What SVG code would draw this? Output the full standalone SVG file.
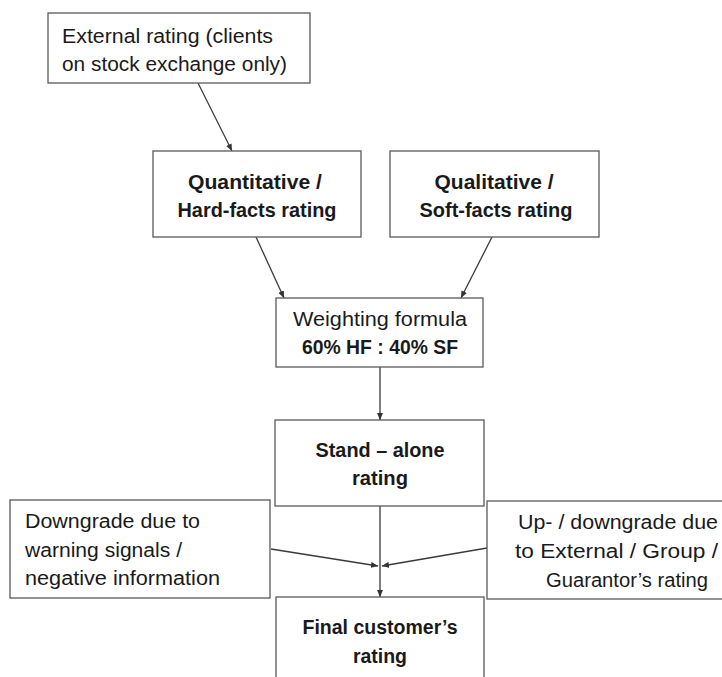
<svg xmlns="http://www.w3.org/2000/svg" width="722" height="677" viewBox="0 0 722 677">
<defs>
<marker id="ah" markerWidth="7" markerHeight="6" refX="7" refY="3" orient="auto" markerUnits="userSpaceOnUse">
<path d="M0,0 L7,3 L0,6 z" fill="#333"/>
</marker>
<style>
.box{fill:#fff;stroke:#5a5a5a;stroke-width:1.3}
.t{font-family:"Liberation Sans",Arial,sans-serif;font-size:20px;fill:#1a1a1a}
.b{font-weight:bold}
.c{stroke:#3a3a3a;stroke-width:1.3;fill:none;marker-end:url(#ah)}
</style>
</defs>
<rect width="722" height="677" fill="#fff"/>
<g id="connectors">
<line class="c" x1="198" y1="83" x2="232" y2="151"/>
<line class="c" x1="256" y1="237" x2="284" y2="298"/>
<line class="c" x1="492" y1="237" x2="461" y2="298"/>
<line class="c" x1="380" y1="367" x2="380" y2="420"/>
<line class="c" x1="380" y1="506" x2="380" y2="597"/>
<line class="c" x1="271" y1="549" x2="378" y2="566"/>
<line class="c" x1="487" y1="548" x2="382" y2="566"/>
</g>
<g id="external">
<rect class="box" x="48" y="13" width="262" height="70"/>
<text class="t" x="62" y="43" textLength="211" lengthAdjust="spacingAndGlyphs">External rating (clients</text>
<text class="t" x="62" y="71" textLength="225" lengthAdjust="spacingAndGlyphs">on stock exchange only)</text>
</g>
<g id="quantitative">
<rect class="box" x="153" y="151" width="208" height="86"/>
<text class="t b" x="255" y="189" text-anchor="middle" textLength="134" lengthAdjust="spacingAndGlyphs">Quantitative /</text>
<text class="t b" x="257" y="217" text-anchor="middle" textLength="159" lengthAdjust="spacingAndGlyphs">Hard-facts rating</text>
</g>
<g id="qualitative">
<rect class="box" x="390" y="151" width="209" height="86"/>
<text class="t b" x="494" y="189" text-anchor="middle" textLength="119" lengthAdjust="spacingAndGlyphs">Qualitative /</text>
<text class="t b" x="496" y="217" text-anchor="middle" textLength="153" lengthAdjust="spacingAndGlyphs">Soft-facts rating</text>
</g>
<g id="weighting">
<rect class="box" x="276" y="298" width="207" height="69"/>
<text class="t" x="380" y="326" text-anchor="middle" textLength="174" lengthAdjust="spacingAndGlyphs">Weighting formula</text>
<text class="t b" x="380" y="354" text-anchor="middle" textLength="156" lengthAdjust="spacingAndGlyphs">60% HF : 40% SF</text>
</g>
<g id="standalone">
<rect class="box" x="275" y="420" width="209" height="86"/>
<text class="t b" x="380" y="457" text-anchor="middle" textLength="129" lengthAdjust="spacingAndGlyphs">Stand – alone</text>
<text class="t b" x="380" y="485" text-anchor="middle" textLength="56" lengthAdjust="spacingAndGlyphs">rating</text>
</g>
<g id="downgrade">
<rect class="box" x="10" y="500" width="260" height="98"/>
<text class="t" x="25" y="528" textLength="175" lengthAdjust="spacingAndGlyphs">Downgrade due to</text>
<text class="t" x="25" y="557" textLength="157" lengthAdjust="spacingAndGlyphs">warning signals /</text>
<text class="t" x="25" y="585" textLength="195" lengthAdjust="spacingAndGlyphs">negative information</text>
</g>
<g id="updowngrade">
<rect class="box" x="487" y="501" width="250" height="98"/>
<text class="t" x="518" y="529" textLength="200" lengthAdjust="spacingAndGlyphs">Up- / downgrade due</text>
<text class="t" x="515" y="558" textLength="203" lengthAdjust="spacingAndGlyphs">to External  / Group /</text>
<text class="t" x="546" y="587" textLength="162" lengthAdjust="spacingAndGlyphs">Guarantor’s rating</text>
</g>
<g id="final">
<rect class="box" x="276" y="597" width="208" height="100"/>
<text class="t b" x="380" y="634" text-anchor="middle" textLength="155" lengthAdjust="spacingAndGlyphs">Final customer’s</text>
<text class="t b" x="380" y="663" text-anchor="middle" textLength="54" lengthAdjust="spacingAndGlyphs">rating</text>
</g>
</svg>
